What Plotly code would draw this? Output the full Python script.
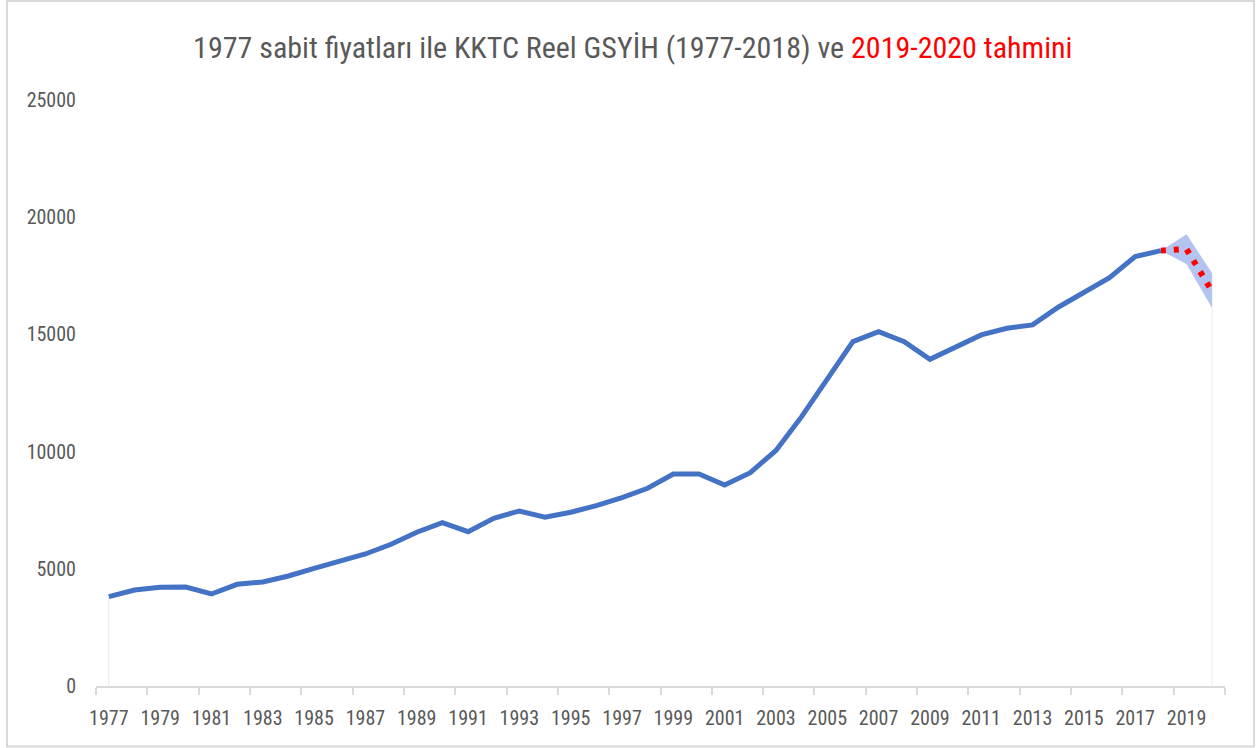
import plotly.graph_objects as go

years = list(range(1977, 2019))
gdp = [
    3810, 4096, 4211, 4224, 3926, 4339, 4438, 4694, 5021, 5304,
    5632, 6046, 6558, 6968, 6584, 7155, 7467, 7197, 7411, 7694,
    8035, 8435, 9046, 9046, 8577, 9103, 10050, 11491, 13087, 14692,
    15118, 14692, 13940, 14435, 14977, 15262, 15404, 16159, 16782, 17422,
    18318, 18574,
]

# 2019-2020 forecast with its band
fc_years = [2018, 2019, 2020]
fc_mid = [18574, 18640, 16830]
fc_upper = [18574, 19270, 17610]
fc_lower = [18574, 18000, 16120]

tick_years = list(range(1977, 2021, 2))
y_ticks = [0, 5000, 10000, 15000, 20000, 25000]

FONT = "'Roboto Condensed', 'Liberation Sans Narrow', 'DejaVu Sans Condensed', Roboto, sans-serif"
GREY = "#595959"

fig = go.Figure()

# faint drop lines at both ends (left over from the stacked areas)
fig.add_trace(go.Scatter(
    x=[years[0], years[0]], y=[0, gdp[0]], mode="lines",
    line=dict(color="rgba(225,230,248,0.8)", width=1), hoverinfo="skip"
))
fig.add_trace(go.Scatter(
    x=[fc_years[-1], fc_years[-1]], y=[0, fc_lower[-1]], mode="lines",
    line=dict(color="rgba(225,230,248,0.8)", width=1), hoverinfo="skip"
))

# forecast band
fig.add_trace(go.Scatter(
    x=fc_years + fc_years[::-1],
    y=fc_upper + fc_lower[::-1],
    fill="toself", fillcolor="rgb(180,196,240)",
    mode="lines", line=dict(width=0), hoverinfo="skip"
))

# forecast dotted line
fig.add_trace(go.Scatter(
    x=fc_years, y=fc_mid, mode="lines",
    line=dict(color="#FF0000", width=6, dash="5px,8px")
))

# actual GDP
fig.add_trace(go.Scatter(
    x=years, y=gdp, mode="lines",
    line=dict(color="#4472C4", width=5)
))

fig.update_layout(
    width=1258, height=748,
    margin=dict(l=96, r=33, t=100, b=62),
    paper_bgcolor="white", plot_bgcolor="white",
    showlegend=False,
    font=dict(family=FONT, color=GREY),
    title=dict(
        text="1977 sabit fiyatları ile KKTC Reel GSYİH (1977-2018) ve "
             "<span style='color:#FF0000'>2019-2020 tahmini</span>",
        x=0.503, xref="container", xanchor="center",
        y=0.937, yanchor="middle",
        font=dict(family=FONT, size=30, color=GREY),
    ),
    shapes=[dict(
        type="rect", xref="paper", yref="paper",
        x0=-0.0788, x1=1.0257, y0=-0.1032, y1=1.169,
        line=dict(color="#D9D9D9", width=2), layer="below",
    )],
)

fig.update_xaxes(
    range=[1976.5, 2020.5001],
    tickmode="array", tickvals=tick_years, ticktext=[str(y) for y in tick_years],
    ticks="", ticklabelstandoff=13,
    tickfont=dict(family=FONT, size=20, color=GREY),
    showline=True, linecolor="#D9D9D9", linewidth=2,
    showgrid=False, zeroline=False,
    minor=dict(tickmode="linear", tick0=1976.5, dtick=2, ticks="outside",
               ticklen=7, tickwidth=2, tickcolor="#D9D9D9", showgrid=False),
)

fig.update_yaxes(
    range=[0, 25000],
    tickmode="array", tickvals=y_ticks, ticktext=[str(v) for v in y_ticks],
    ticks="", ticklabelstandoff=19,
    tickfont=dict(family=FONT, size=20, color=GREY),
    showline=False, showgrid=False, zeroline=False,
)

# the page's default 8px body margin would shift the chart
fig.write_html("out.html", config={"displayModeBar": False},
               post_script="document.body.style.margin='0';")
